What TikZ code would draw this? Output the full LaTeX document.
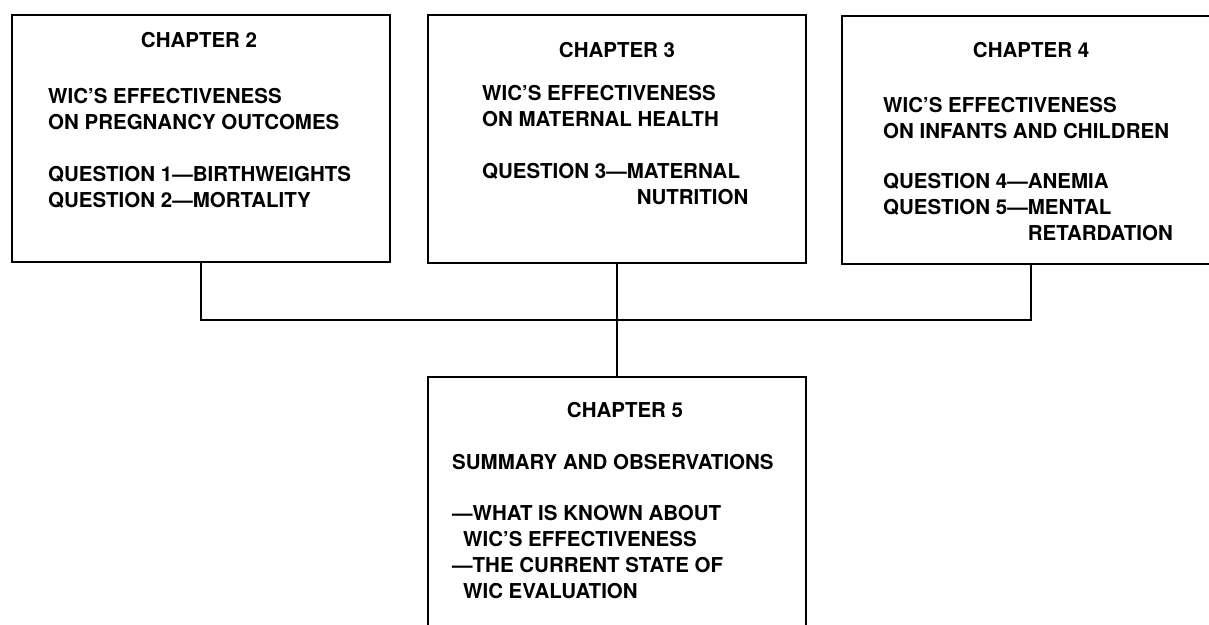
\documentclass[tikz,border=0pt]{standalone}
\usepackage{fontspec}
\setmainfont{TeX Gyre Heros}
\usetikzlibrary{positioning}

\begin{document}
\begin{tikzpicture}[
    x=1pt, y=-1pt,
    chapbox/.style={
        draw,
        line width=2.2pt,
        minimum width=378pt,
        inner sep=0pt,
    },
    heading/.style={
        font=\bfseries\fontsize{20.5}{26}\selectfont,
        anchor=base,
        inner sep=0pt,
    },
    bodytext/.style={
        font=\bfseries\fontsize{20.5}{26}\selectfont,
        align=left,
        anchor=base west,
        inner sep=0pt,
    },
    link/.style={
        line width=2.2pt,
    }
]
    \useasboundingbox (0,0) rectangle (1209,624);

    % Chapter boxes
    \node[chapbox, minimum height=247pt] (ch2) at (201,138.5) {};
    \node[chapbox, minimum height=248pt] (ch3) at (617,139) {};
    \node[chapbox, minimum height=248pt] (ch4) at (1031,140) {};
    \node[chapbox, minimum height=250pt] (ch5) at (617,502) {};

    % Headings
    \node[heading] (head2) at (199,47) {CHAPTER 2};
    \node[heading] (head3) at (617,57) {CHAPTER 3};
    \node[heading] (head4) at (1031,57) {CHAPTER 4};
    \node[heading] (head5) at (625,417) {CHAPTER 5};

    % Contents (placed by the baseline of their last line)
    \node[bodytext] (body2) at (48,207) {WIC'S EFFECTIVENESS\\ON PREGNANCY OUTCOMES\\[26pt]QUESTION 1—BIRTHWEIGHTS\\QUESTION 2—MORTALITY};
    \node[bodytext] (body3) at (482,204) {WIC'S EFFECTIVENESS\\ON MATERNAL HEALTH\\[26pt]QUESTION 3—MATERNAL\\\hphantom{QUESTION 3—}\hspace*{10pt}NUTRITION};
    \node[bodytext] (body4) at (883,240) {WIC'S EFFECTIVENESS\\ON INFANTS AND CHILDREN\\[24pt]QUESTION 4—ANEMIA\\QUESTION 5—MENTAL\\\hphantom{QUESTION 5—}RETARDATION};
    \node[bodytext] (body5) at (452,598) {SUMMARY AND OBSERVATIONS\\[25pt]—WHAT IS KNOWN ABOUT\\\hspace*{11pt}WIC'S EFFECTIVENESS\\—THE CURRENT STATE OF\\\hspace*{11pt}WIC EVALUATION};

    % Connectors
    \coordinate (bus) at (617,320);
    \draw[link] (ch2.south) |- (bus) -| (ch4.south);
    \draw[link] (ch3.south) -- (ch5.north);
\end{tikzpicture}
\end{document}
